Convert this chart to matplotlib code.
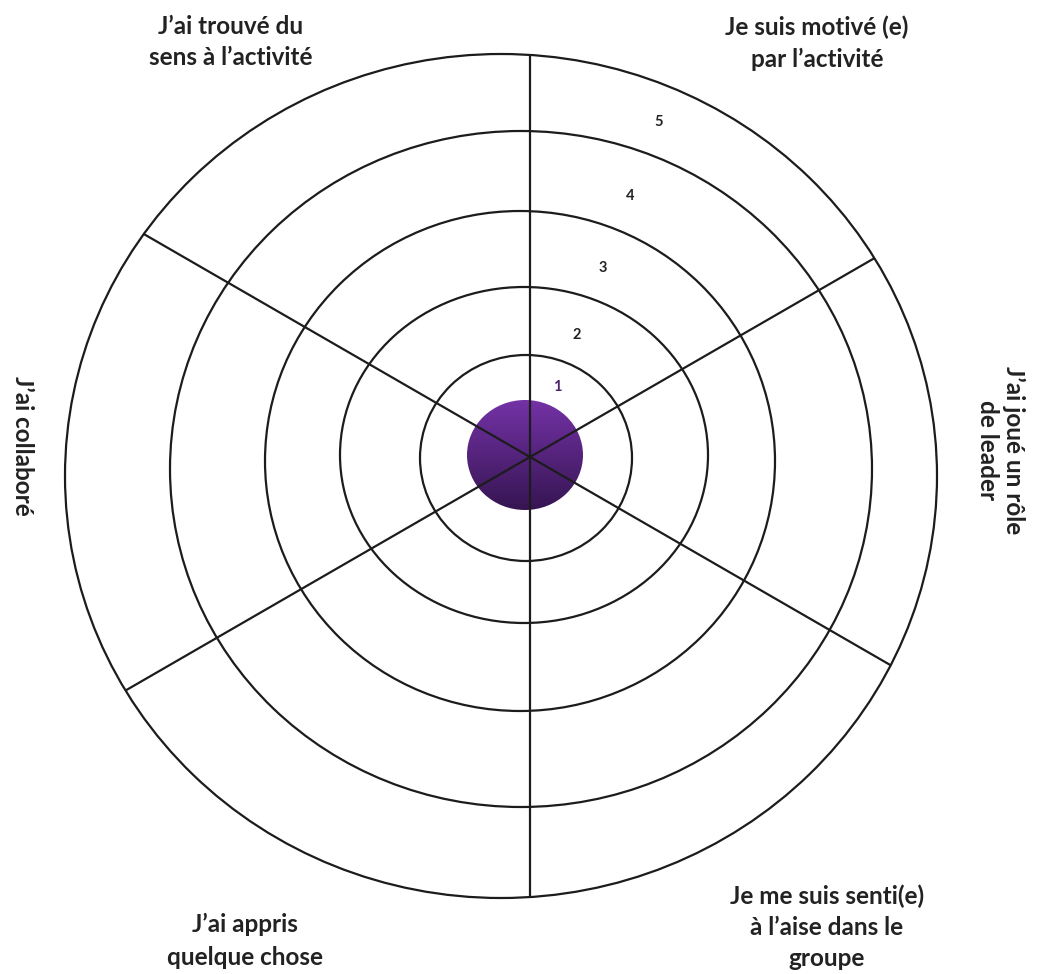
import numpy as np
import matplotlib
matplotlib.use("Agg")
import matplotlib.pyplot as plt
from matplotlib.patches import Ellipse

# scale levels drawn as rings
levels = [1, 2, 3, 4, 5]
level_labels = ["1", "2", "3", "4", "5"]

# ring shapes (centre offset and half axes, px)
ring_cx = [-4, -6, -10, -9, -29]
ring_cy = [-1, 2, -4, -12, -19]
ring_a = [106, 184, 255, 351, 436]
ring_b = [103, 168, 250, 338, 422]

# six criteria, one per sector
criteria = [
    "Je suis motivé (e)\npar l’activité",
    "J’ai joué un rôle\nde leader",
    "Je me suis senti(e)\nà l’aise dans le\ngroupe",
    "J’ai appris\nquelque chose",
    "J’ai collaboré",
    "J’ai trouvé du\nsens à l’activité",
]
spoke_angles = [90, 30, -30, -90, -150, 150]

# label places (image px), rotation and line spacing
label_xy = [(817, 43), (1001, 450), (827, 927), (245, 941), (22, 446), (231, 42)]
label_rot = [0, -90, 0, 0, -90, 0]
label_ls = [1.45, 1.15, 1.42, 1.5, 1.4, 1.45]

CX, CY = 530, 457

fig = plt.figure(figsize=(10.37, 9.74), dpi=100)
ax = fig.add_axes([0, 0, 1, 1])
ax.set_xlim(-CX, 1037 - CX)
ax.set_ylim(-(974 - CY), CY)
ax.set_aspect("equal")
ax.axis("off")

line_col = "#1c1c1c"

# rings
for cx, cy, a, b in zip(ring_cx, ring_cy, ring_a, ring_b):
    ax.add_patch(Ellipse((cx, cy), 2 * a, 2 * b, fill=False,
                         ec=line_col, lw=1.6, zorder=2))


def hit_outer(theta):
    # distance along the ray where it meets the outer ring
    cx, cy, a, b = ring_cx[-1], ring_cy[-1], ring_a[-1], ring_b[-1]
    c, s = np.cos(theta), np.sin(theta)
    A = (c / a) ** 2 + (s / b) ** 2
    B = -2 * (c * cx / a ** 2 + s * cy / b ** 2)
    C = (cx / a) ** 2 + (cy / b) ** 2 - 1
    return (-B + np.sqrt(B * B - 4 * A * C)) / (2 * A)


# spokes
for ang in spoke_angles:
    th = np.radians(ang)
    t = hit_outer(th)
    ax.plot([0, t * np.cos(th)], [0, t * np.sin(th)], color=line_col,
            lw=1.6, zorder=4, solid_capstyle="butt")

# purple centre disc with a vertical gradient
disc = Ellipse((-5, 2), 116, 110, fc="none", ec="none")
ax.add_patch(disc)
top = np.array([0x74, 0x32, 0xa6]) / 255
bot = np.array([0x36, 0x15, 0x52]) / 255
g = np.linspace(0, 1, 256)[:, None]
img = top * (1 - g[..., None]) + bot * g[..., None]
img = np.repeat(img, 2, axis=1)
im = ax.imshow(img, extent=[-63, 53, -53, 57], origin="upper",
               zorder=3, interpolation="bilinear")
im.set_clip_path(disc)

# level numbers between rings, along one ray
tops = [55] + [cy + b for cy, b in zip(ring_cy, ring_b)]
ang = np.radians(69)
for i, lab in enumerate(level_labels):
    r = tops[i] + 0.42 * (tops[i + 1] - tops[i])
    ax.text(r * np.cos(ang), r * np.sin(ang), lab, ha="center", va="center",
            fontsize=10.5, fontweight="bold", family="Lato",
            color="#4a2468" if levels[i] == 1 else "#222222", zorder=5)

# criteria labels
for txt, (x, y), rot, ls in zip(criteria, label_xy, label_rot, label_ls):
    ax.text(x - CX, CY - y, txt, ha="center", va="center", rotation=rot,
            fontsize=17.5, fontweight="bold", family="Lato",
            color="#222222", linespacing=ls, zorder=5)

fig.savefig("out.png", dpi=100, facecolor="white")
